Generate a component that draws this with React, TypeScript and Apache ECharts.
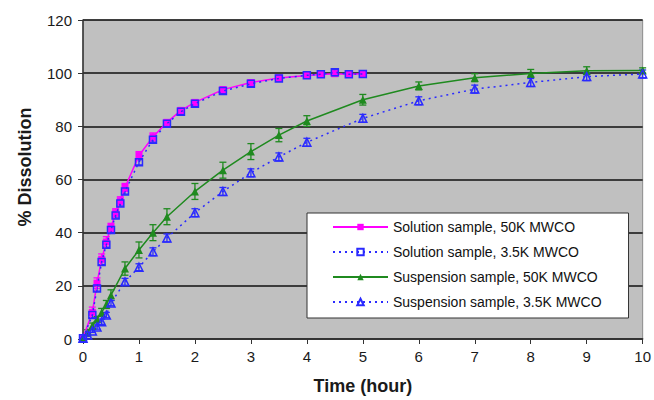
import React, { useEffect, useRef } from "react";
import * as echarts from "echarts";

const xTicks = [0, 1, 2, 3, 4, 5, 6, 7, 8, 9, 10];
const yTicks = [0, 20, 40, 60, 80, 100, 120];

const solTimes = [0, 0.167, 0.25, 0.333, 0.417, 0.5, 0.583, 0.667, 0.75, 1, 1.25, 1.5, 1.75, 2, 2.5, 3, 3.5, 4, 4.25, 4.5, 4.75, 5];
const sol50K = [0.5, 10, 21, 30, 36.5, 42, 47.5, 52, 57, 69, 76, 81.5, 86, 89, 93.8, 96.5, 98.2, 99.1, 99.5, 99.8, 99.6, 99.8];
const sol50KErr = [0.5, 2, 2, 2, 2, 1.5, 1.5, 1.5, 1.5, 1.5, 1.5, 1, 1, 1, 1, 1, 1, 1, 1, 1, 1, 1];
const sol35K = [0.3, 9, 19, 29, 35.5, 41, 46.5, 51, 55.5, 66.5, 75, 81, 85.5, 88.5, 93.3, 96, 98, 99.2, 99.6, 100.3, 99.6, 99.7];
const sol35KErr = [0.3, 1, 1, 1, 1, 1, 1, 1, 1, 1, 1, 1, 1, 1, 1, 1, 1, 1, 1, 1, 1, 1];

const susTimes = [0, 0.083, 0.167, 0.25, 0.333, 0.417, 0.5, 0.75, 1, 1.25, 1.5, 2, 2.5, 3, 3.5, 4, 5, 6, 7, 8, 9, 10];
const sus50K = [0.5, 2.5, 5, 7.5, 10, 13, 16.5, 26.5, 33.5, 40, 46, 55.5, 63.5, 70.5, 76.7, 82, 90, 95.2, 98.3, 99.9, 100.9, 101];
const sus50KErr = [0.5, 1, 1, 1, 1.5, 1.5, 2, 2.5, 3, 3, 3, 3, 3, 3, 2.5, 2, 2, 1.5, 1.5, 1.5, 1.5, 1];
const sus35K = [0.3, 1.5, 3, 4.5, 6.5, 9, 13.5, 21.5, 27, 32.8, 38, 47.5, 55.5, 62.5, 68.5, 74, 83, 89.6, 94, 96.5, 98.7, 99.7];
const sus35KErr = [0.3, 0.5, 0.5, 0.8, 1, 1, 1, 1.3, 1.3, 1.5, 1.5, 1.5, 1.5, 1.5, 1.5, 1.5, 1.5, 1.5, 1.5, 1.5, 1.5, 1.5];

const names = [
  "Solution sample, 50K MWCO",
  "Solution sample, 3.5K MWCO",
  "Suspension sample, 50K MWCO",
  "Suspension sample, 3.5K MWCO",
];

const MAGENTA = "#ff00ff";
const BLUE = "#2a2aff";
const GREEN = "#1f8a1f";

function pairs(t: number[], v: number[]) {
  return t.map((x, i) => [x, v[i]]);
}

function errSeries(t: number[], v: number[], e: number[], color: string) {
  return {
    type: "custom",
    silent: true,
    z: 1,
    data: t.map((x, i) => [x, v[i] - e[i], v[i] + e[i]]),
    renderItem: (params: any, api: any) => {
      const lo = api.coord([api.value(0), api.value(1)]);
      const hi = api.coord([api.value(0), api.value(2)]);
      const w = 3.5;
      const style = { stroke: color, lineWidth: 1.3 };
      return {
        type: "group",
        children: [
          { type: "line", shape: { x1: lo[0], y1: lo[1], x2: hi[0], y2: hi[1] }, style },
          { type: "line", shape: { x1: lo[0] - w, y1: lo[1], x2: lo[0] + w, y2: lo[1] }, style },
          { type: "line", shape: { x1: hi[0] - w, y1: hi[1], x2: hi[0] + w, y2: hi[1] }, style },
        ],
      };
    },
  };
}

export default function App() {
  const ref = useRef<HTMLDivElement>(null);
  useEffect(() => {
    const chart = echarts.init(ref.current!, null, { renderer: "svg" });
    const font = "Liberation Sans, Arial, sans-serif";
    chart.setOption({
      animation: false,
      backgroundColor: "#ffffff",
      textStyle: { fontFamily: font },
      grid: {
        left: 83,
        right: 10,
        top: 20,
        bottom: 61,
        show: true,
        backgroundColor: "#c0c0c0",
        borderColor: "#8a8a8a",
        borderWidth: 1,
      },
      xAxis: {
        type: "value",
        min: 0,
        max: 10,
        interval: 1,
        name: "Time (hour)",
        nameLocation: "middle",
        nameGap: 38,
        nameTextStyle: { fontSize: 18, fontWeight: "bold", color: "#1a1a1a", fontFamily: font },
        axisLine: { show: true, lineStyle: { color: "#333", width: 1.5 } },
        axisTick: { show: true, inside: false, length: 5, lineStyle: { color: "#333" } },
        axisLabel: {
          fontSize: 15,
          color: "#1a1a1a",
          margin: 10,
          formatter: (v: number) => (xTicks.includes(v) ? String(v) : ""),
        },
        splitLine: { show: false },
      },
      yAxis: {
        type: "value",
        min: 0,
        max: 120,
        interval: 20,
        axisLine: { show: true, lineStyle: { color: "#333", width: 1.5 } },
        axisTick: { show: true, inside: false, length: 5, lineStyle: { color: "#333" } },
        axisLabel: {
          fontSize: 15,
          color: "#1a1a1a",
          margin: 11,
          formatter: (v: number) => (yTicks.includes(v) ? String(v) : ""),
        },
        splitLine: {
          show: true,
          lineStyle: { color: "#111", width: 1.5 },
        },
      },
      legend: {
        data: names,
        orient: "vertical",
        left: 307,
        top: 213,
        backgroundColor: "#ffffff",
        borderColor: "#333",
        borderWidth: 1,
        borderRadius: 0,
        padding: [6, 27, 8, 25],
        itemWidth: 55,
        itemHeight: 8,
        itemGap: 9,
        selectedMode: false,
        textStyle: { fontSize: 14, color: "#111", fontFamily: font, lineHeight: 16 },
      },
      graphic: [
        {
          type: "text",
          x: 25,
          y: 167,
          rotation: Math.PI / 2,
          style: {
            text: "% Dissolution",
            fontSize: 18,
            fontWeight: "bold",
            fill: "#1a1a1a",
            fontFamily: font,
            textAlign: "center",
            textVerticalAlign: "middle",
          },
        },
      ],
      series: [
        errSeries(solTimes, sol50K, sol50KErr, MAGENTA),
        errSeries(solTimes, sol35K, sol35KErr, BLUE),
        errSeries(susTimes, sus50K, sus50KErr, GREEN),
        errSeries(susTimes, sus35K, sus35KErr, BLUE),
        {
          name: names[0],
          type: "line",
          data: pairs(solTimes, sol50K),
          symbol: "rect",
          symbolSize: 7,
          itemStyle: { color: MAGENTA },
          lineStyle: { color: MAGENTA, width: 1.5, type: "solid" },
          z: 3,
        },
        {
          name: names[1],
          type: "line",
          data: pairs(solTimes, sol35K),
          symbol: "rect",
          symbolSize: 7,
          itemStyle: { color: "rgba(0,0,0,0)", borderColor: BLUE, borderWidth: 1.5 },
          lineStyle: { color: BLUE, width: 1.5, type: [2, 4] },
          z: 4,
        },
        {
          name: names[2],
          type: "line",
          data: pairs(susTimes, sus50K),
          symbol: "triangle",
          symbolSize: 8,
          itemStyle: { color: GREEN },
          lineStyle: { color: GREEN, width: 1.5, type: "solid" },
          z: 3,
        },
        {
          name: names[3],
          type: "line",
          data: pairs(susTimes, sus35K),
          symbol: "triangle",
          symbolSize: 8,
          itemStyle: { color: "rgba(0,0,0,0)", borderColor: BLUE, borderWidth: 1.5 },
          lineStyle: { color: BLUE, width: 1.5, type: [2, 4] },
          z: 4,
        },
      ],
    });
    return () => chart.dispose();
  }, []);
  return <div ref={ref} style={{ width: 654, height: 400, position: "absolute", left: 0, top: 0 }} />;
}
